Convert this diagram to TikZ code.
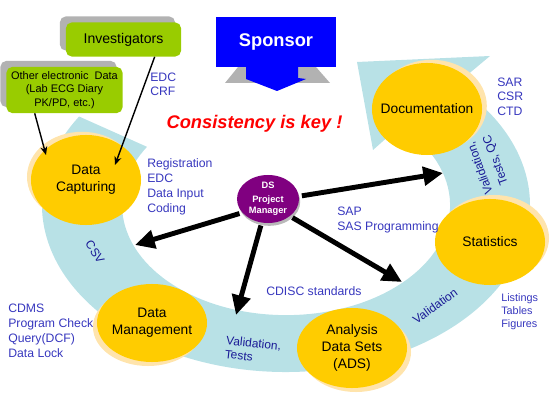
\documentclass[tikz,border=0pt]{standalone}
\usepackage{fontspec}
\setmainfont{Liberation Sans}
\usetikzlibrary{shapes.geometric,shadows,arrows.meta}
\definecolor{bandcol}{RGB}{184,225,230}
\definecolor{ellyellow}{RGB}{255,204,0}
\definecolor{halocol}{RGB}{255,228,172}
\definecolor{boxgreen}{RGB}{153,204,0}
\definecolor{boxshadow}{RGB}{178,178,178}
\definecolor{labelblue}{RGB}{55,55,190}
\definecolor{bandtext}{RGB}{25,25,150}
\definecolor{pmpurple}{RGB}{128,0,128}
\definecolor{sponsorblue}{RGB}{0,0,255}

\begin{document}
\begin{tikzpicture}[x=0.025cm,y=0.025cm,
  stage/.style={ellipse, fill=ellyellow, inner sep=-20pt, minimum width=2.75cm, align=center,
    font=\fontsize{9.8}{12}\selectfont},
  halo/.style 2 args={general shadow={fill=halocol, shadow xshift=#1, shadow yshift=#2}},
  source/.style={rounded corners=4pt, fill=boxgreen, align=center, inner sep=0pt,
    general shadow={fill=boxshadow, shadow xshift=-1.5mm, shadow yshift=1.5mm}},
  note/.style={text=labelblue, align=left, anchor=north west, inner sep=0pt,
    font=\fontsize{8.7}{10.6}\selectfont},
  flowtext/.style={text=bandtext, inner sep=0pt, align=left, font=\fontsize{8.5}{10}\selectfont},
  fat/.style={line width=3.5pt, -{Triangle[length=14pt,width=13pt]}, shorten <=2pt},
  feed/.style={line width=1pt, -{Stealth[length=6pt,width=5pt]}}]
\useasboundingbox (0,0) rectangle (558,-406);

% flow band round the phases
\fill[bandcol] (286,-205) ++(148:244 and 167)
  arc[start angle=148, end angle=406, x radius=244, y radius=167]
  -- (490,-56) -- (357,-62) -- (373,-150) -- (400,-126)
  arc[start angle=406, end angle=148, x radius=164, y radius=110] -- cycle;

% sponsor with its arrow
\fill[boxshadow] (225,-83) -- (238,-67) -- (316,-67) -- (330,-83) -- cycle;
\fill[sponsorblue] (246,-66) -- (298,-66) -- (298,-78) -- (306,-79) -- (277,-91) -- (246,-79) -- cycle;
\node[fill=sponsorblue, text=white, minimum width=3cm, minimum height=1.25cm,
  font=\fontsize{13}{15}\selectfont\bfseries] (sponsor) at (276,-42) {Sponsor};

% data sources
\node[source, minimum width=2.875cm, minimum height=0.85cm, font=\fontsize{10}{12}\selectfont]
  (inv) at (123.5,-39.5) {Investigators};
\node[source, minimum width=2.9cm, minimum height=1.15cm, font=\fontsize{7.8}{9.4}\selectfont]
  (oed) at (64.5,-90) {Other electronic\ \ Data\\(Lab ECG Diary\\PK/PD, etc.)};

% phases
\node[stage, halo={-1mm}{0.8mm}, minimum height=2.25cm] (cap) at (86,-180) {Data\\Capturing};
\node[stage, halo={-1mm}{-1mm}, minimum height=1.95cm] (dm) at (152,-323) {Data\\Management};
\node[stage, halo={1mm}{-1mm}, minimum height=2cm] (ads) at (352,-348) {Analysis\\Data Sets\\(ADS)};
\node[stage, halo={1mm}{1mm}, minimum height=2.15cm] (stat) at (490,-242) {Statistics};
\node[stage, halo={1.2mm}{0.8mm}, minimum height=2.3cm] (doc) at (427,-109) {Documentation};

\node[ellipse, fill=pmpurple, text=white, inner sep=-8pt, minimum width=1.55cm, minimum height=1.2cm,
  general shadow={fill=gray!55, shadow xshift=0.3mm, shadow yshift=-0.7mm},
  align=center, font=\fontsize{6.6}{8}\selectfont\bfseries] (pm) at (268,-199) {DS\\[2pt]Project\\Manager};

% side notes
\node[note, font=\fontsize{8.7}{10}\selectfont] (edclbl) at (150,-72.5) {EDC\\CRF};
\node[note] (reglbl) at (147,-158.5) {Registration\\EDC\\Data Input\\Coding};
\node[note, font=\fontsize{8.7}{10.2}\selectfont] (sarlbl) at (497,-77.5) {SAR\\CSR\\CTD};
\node[note] (saplbl) at (337,-206.5) {SAP\\SAS Programming};
\node[note] (cdisclbl) at (266,-286.5) {CDISC standards};
\node[note] (cdmslbl) at (8,-303.5) {CDMS\\Program Check\\Query(DCF)\\Data Lock};
\node[note, font=\fontsize{7.7}{9.2}\selectfont] (lstlbl) at (501,-293.5) {Listings\\Tables\\Figures};

\node[text=red, font=\fontsize{13}{15}\selectfont\bfseries\itshape] (key) at (254.5,-124) {Consistency is key !};

% texts on the band
\node[flowtext, rotate=-58] (csvlbl) at (95,-252) {CSV};
\node[flowtext, rotate=-6] (vallbla) at (253,-350) {Validation,\\Tests};
\node[flowtext, rotate=36] (vallblb) at (435,-306) {Validation};
\node[flowtext, rotate=110] (vallblc) at (480,-168) {Validation,};
\node[flowtext, rotate=110] (qclbl) at (496,-160) {Tests, QC};

% arrows
\coordinate (capa) at (115,-165);
\coordinate (capb) at (46,-155);
\coordinate (tipl) at (135,-245);
\coordinate (tipd) at (236,-315);
\coordinate (tipr) at (443,-173);
\coordinate (tipdr) at (402,-282);

\draw[feed] (inv.-29) -- (capa);
\draw[feed] (oed.218) -- (capb);

\draw[fat] (pm.208) -- (tipl);
\draw[fat] (pm.255) -- (tipd);
\draw[fat] (pm.5) -- (tipr);
\draw[fat] (pm.-38) -- (tipdr);

\end{tikzpicture}
\end{document}
